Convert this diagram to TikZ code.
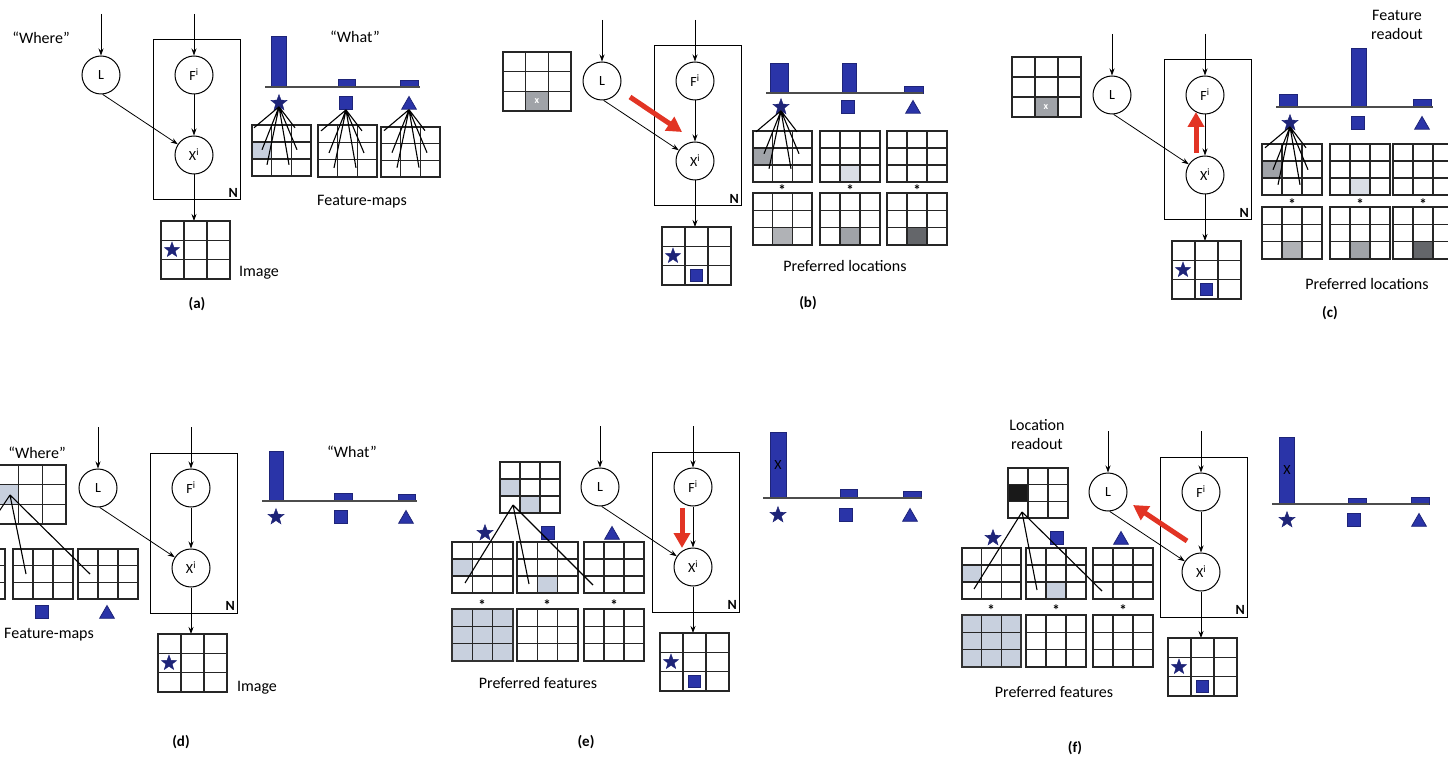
\documentclass[tikz,border=0pt]{standalone}
\usepackage{fontspec}
\setmainfont{Carlito}
\usetikzlibrary{shapes.geometric,arrows.meta}
\definecolor{barblue}{RGB}{42,52,168}
\definecolor{navy}{RGB}{30,36,120}
\definecolor{lightcell}{RGB}{200,208,222}
\definecolor{palecell}{RGB}{218,222,230}
\definecolor{midgrey}{RGB}{160,163,168}
\definecolor{lgrey}{RGB}{176,178,182}
\definecolor{dgrey}{RGB}{100,102,106}
\definecolor{redc}{RGB}{226,52,36}
\tikzset{
  gl/.style={line width=1.2pt, draw=black!85},
  circ/.style={circle, draw, line width=1pt, minimum size=38pt, inner sep=0pt, font=\fontsize{14}{16}\selectfont},
  arr/.style={-{Stealth[length=7pt,width=5pt]}, line width=0.8pt},
  plate/.style={draw, line width=1pt},
  redarr/.style={-{Triangle[length=15pt,width=16pt]}, line width=5pt, draw=redc},
  starsym/.style={star, star points=5, star point ratio=2.4, fill=navy, draw=navy, minimum size=17pt, inner sep=0pt},
  sqsym/.style={rectangle, fill=barblue, draw=navy, line width=0.8pt, minimum size=12pt, inner sep=0pt},
  trisym/.style={regular polygon, regular polygon sides=3, fill=barblue, draw=navy, line width=0.8pt, minimum size=17pt, inner sep=0pt},
  bar/.style={fill=barblue, draw=navy, line width=0.8pt},
  base/.style={line width=1.3pt, draw=black!70},
  lbl/.style={font=\fontsize{16}{19}\selectfont},
  plbl/.style={font=\fontsize{15}{18}\selectfont\bfseries},
  fanl/.style={line width=1.1pt},
  ast/.style={font=\fontsize{15}{16}\selectfont\bfseries, inner sep=0pt},
  xmark/.style={text=white, font=\fontsize{10}{11}\selectfont\bfseries},
}
\newcommand\gridbox[4]{%
  \draw[gl] (#1,#2) rectangle (#3,#4);
  \draw[gl] ({#1+(#3-#1)/3},#2) -- ({#1+(#3-#1)/3},#4)
    ({#1+2*(#3-#1)/3},#2) -- ({#1+2*(#3-#1)/3},#4)
    (#1,{#2+(#4-#2)/3}) -- (#3,{#2+(#4-#2)/3})
    (#1,{#2+2*(#4-#2)/3}) -- (#3,{#2+2*(#4-#2)/3});
}
\newcommand\cellfill[7]{\fill[#7] ({#1+(#3-#1)*(#5-1)/3},{#2+(#4-#2)*(#6-1)/3}) rectangle ({#1+(#3-#1)*#5/3},{#2+(#4-#2)*#6/3});}
\newcommand\fanout[1]{%
  \draw[fanl] (#1.south) -- +(-25,21) (#1.south) -- +(-17,43) (#1.south) -- +(-12,58)
              (#1.south) -- +(16,21) (#1.south) -- +(18,43) (#1.south) -- +(10,58);
}
\newcommand\graphpart[3]{%
  \begin{scope}[shift={#2}]
    \draw[plate] (52,-35) rectangle (139,125);
    \node[font=\fontsize{14}{16}\selectfont\bfseries, anchor=south east, inner sep=1pt] (#1N) at (138,124) {N};
    \node[circ] (#1L) at (0,0) {L};
    \node[circ] (#1F) at (93,0) {F\textsuperscript{i}};
    \node[circ] (#1X) at (93,80) {X\textsuperscript{i}};
    \coordinate (#1Lin) at (0,-61);
    \coordinate (#1Fin) at (93,-61);
    \coordinate (#1Img) at (93,146);
    \draw[arr] (#1Lin) -- (#1L);
    \draw[arr] (#1Fin) -- (#1F);
    \draw[arr] (#1F) -- (#1X);
    \draw[arr] (#1L.-85) -- (#1X);
    \draw[arr] (#1X) -- (#1Img);
    \gridbox{60}{146}{129}{204}
    \node[starsym, minimum size=16pt] (#1Istar) at (71,175) {};
    #3
  \end{scope}
}
\begin{document}
\begin{tikzpicture}[x=1pt,y=-1pt]
\useasboundingbox (0,0) rectangle (1448,759);
\fill[white] (0,0) rectangle (1448,759);
\clip (0,0) rectangle (1448,759);

%% ---------------- (a)
\node[lbl] (aWhere) at (41,38) {“Where”};
\graphpart{a}{(101,75)}{}
\node[lbl] (aImage) at (259,273) {Image};
\node[plbl] (acap) at (197,304) {(a)};
\draw[bar] (271,36) rectangle (286,87);
\draw[bar] (338,79) rectangle (355,87);
\draw[bar] (400,80) rectangle (418,87);
\draw[base] (265,87) -- (420,87);
\node[lbl] (aWhat) at (355,37) {“What”};
\cellfill{252}{125}{311}{176}{1}{2}{lightcell}
\gridbox{252}{125}{311}{176}
\gridbox{318}{125}{377}{177}
\gridbox{381}{127}{440}{177}
\node[starsym] (aS) at (279,103) {};
\node[sqsym, minimum size=13pt] (aQ) at (346,103) {};
\node[trisym] (aT) at (409,105) {};
\fanout{aS}\fanout{aQ}\fanout{aT}
\node[lbl] (aFM) at (362,202) {Feature-maps};

%% ---------------- (b)
\cellfill{503}{52}{571}{111}{2}{3}{midgrey}
\gridbox{503}{52}{571}{111}
\node[xmark] (bx) at (537,101) {x};
\graphpart{b}{(602,81)}{\node[sqsym] (bIsq) at (94,194) {};}
\coordinate (bR1) at (630,97); \coordinate (bR2) at (682,132);
\draw[redarr] (bR1) -- (bR2);
\draw[bar] (770,63) rectangle (788,93);
\draw[bar] (842,63) rectangle (856,93);
\draw[bar] (904,86) rectangle (923,93);
\draw[base] (766,93) -- (923,93);
\cellfill{753}{131}{812}{182}{1}{2}{midgrey}
\cellfill{820}{131}{880}{182}{2}{3}{palecell}
\gridbox{753}{131}{812}{182}
\gridbox{820}{131}{880}{182}
\gridbox{887}{131}{947}{182}
\node[starsym] (bS) at (781,107) {};
\node[sqsym, minimum size=13pt] (bQ) at (848,107) {};
\node[trisym] (bT) at (913,109) {};
\fanout{bS}
\node[ast] at (782,190) {*};
\node[ast] at (850,190) {*};
\node[ast] at (917,190) {*};
\cellfill{753}{193}{812}{245}{2}{3}{lgrey}
\cellfill{820}{193}{880}{245}{2}{3}{midgrey}
\cellfill{887}{193}{947}{245}{2}{3}{dgrey}
\gridbox{753}{193}{812}{245}
\gridbox{820}{193}{880}{245}
\gridbox{887}{193}{947}{245}
\node[lbl] (bPL) at (845,266) {Preferred locations};
\node[plbl] (bcap) at (808,303) {(b)};

%% ---------------- (c)
\cellfill{1012}{57}{1081}{117}{2}{3}{midgrey}
\gridbox{1012}{57}{1081}{117}
\node[xmark] (cx) at (1046,107) {x};
\graphpart{c}{(1112,95)}{\node[sqsym] (cIsq) at (94,194) {};}
\coordinate (cR1) at (1196,153); \coordinate (cR2) at (1196,112);
\draw[redarr] (cR1) -- (cR2);
\node[lbl, align=center] (cFR) at (1397,25) {Feature\\readout};
\draw[bar] (1279,94) rectangle (1297,107);
\draw[bar] (1351,48) rectangle (1366,107);
\draw[bar] (1413,99) rectangle (1431,107);
\draw[base] (1276,107) -- (1433,107);
\cellfill{1262}{144}{1322}{195}{1}{2}{midgrey}
\cellfill{1330}{144}{1390}{195}{2}{3}{palecell}
\gridbox{1262}{144}{1322}{195}
\gridbox{1330}{144}{1390}{195}
\gridbox{1393}{144}{1453}{195}
\node[starsym] (cS) at (1290,123) {};
\node[sqsym, minimum size=13pt] (cQ) at (1358,123) {};
\node[trisym] (cT) at (1422,125) {};
\fanout{cS}
\node[ast] at (1292,204) {*};
\node[ast] at (1360,204) {*};
\node[ast] at (1423,204) {*};
\cellfill{1262}{207}{1322}{259}{2}{3}{lgrey}
\cellfill{1330}{207}{1390}{259}{2}{3}{midgrey}
\cellfill{1393}{207}{1453}{259}{2}{3}{dgrey}
\gridbox{1262}{207}{1322}{259}
\gridbox{1330}{207}{1390}{259}
\gridbox{1393}{207}{1453}{259}
\node[lbl] (cPL) at (1367,284) {Preferred locations};
\node[plbl] (ccap) at (1330,313) {(c)};

%% ---------------- (d)
\node[lbl] (dWhere) at (37,453) {“Where”};
\cellfill{-5}{465}{66}{524}{1}{2}{lightcell}
\gridbox{-5}{465}{66}{524}
\gridbox{-55}{549}{5}{599}
\gridbox{13}{549}{73}{599}
\gridbox{78}{549}{138}{599}
\coordinate (dO) at (10,495);
\coordinate (dE1) at (-30,555); \coordinate (dE2) at (26,574); \coordinate (dE3) at (90,574);
\draw[fanl] (dO) -- (dE1) (dO) -- (dE2) (dO) -- (dE3);
\node[sqsym, minimum size=13pt] (dQ2) at (42,612) {};
\node[trisym] (dT2) at (107,614) {};
\node[lbl] (dFM) at (49,635) {Feature-maps};
\graphpart{d}{(98,488)}{}
\node[lbl] (dImage) at (257,688) {Image};
\node[plbl] (dcap) at (181,742) {(d)};
\draw[bar] (269,451) rectangle (283,501);
\draw[bar] (334,493) rectangle (352,501);
\draw[bar] (398,494) rectangle (415,501);
\draw[base] (262,501) -- (417,501);
\node[starsym] (dS) at (276,517) {};
\node[sqsym, minimum size=13pt] (dQ) at (341,517) {};
\node[trisym] (dT) at (406,519) {};
\node[lbl] (dWhat) at (352,452) {“What”};

%% ---------------- (e)
\cellfill{500}{462}{560}{513}{1}{2}{lightcell}
\cellfill{500}{462}{560}{513}{2}{3}{lightcell}
\gridbox{500}{462}{560}{513}
\cellfill{452}{542}{513}{593}{1}{2}{lightcell}
\cellfill{517}{542}{578}{593}{2}{3}{lightcell}
\gridbox{452}{542}{513}{593}
\gridbox{517}{542}{578}{593}
\gridbox{584}{542}{644}{593}
\node[starsym] (eS) at (485,533) {};
\node[sqsym, minimum size=13pt] (eQ) at (548,533) {};
\node[trisym] (eT) at (612,535) {};
\coordinate (eO) at (513,505);
\coordinate (eE1) at (465,583); \coordinate (eE2) at (529,584); \coordinate (eE3) at (593,585);
\draw[fanl] (eO) -- (eE1) (eO) -- (eE2) (eO) -- (eE3);
\node[ast] at (482,605) {*};
\node[ast] at (547,605) {*};
\node[ast] at (614,605) {*};
\fill[lightcell] (452,609) rectangle (513,661);
\gridbox{452}{609}{513}{661}
\draw[line width=1.6pt, draw=black!80] (452,609) rectangle (513,661);
\gridbox{517}{609}{578}{661}
\gridbox{584}{609}{644}{661}
\node[lbl] (ePF) at (538,683) {Preferred features};
\node[plbl] (ecap) at (586,742) {(e)};
\graphpart{e}{(600,487)}{\node[sqsym] (eIsq) at (94,194) {};}
\coordinate (eR1) at (682,508); \coordinate (eR2) at (682,548);
\draw[redarr] (eR1) -- (eR2);
\draw[bar] (770,432) rectangle (786,498);
\node[font=\fontsize{14}{16}\selectfont] (eXb) at (778,465) {X};
\draw[bar] (840,489) rectangle (857,498);
\draw[bar] (903,491) rectangle (921,498);
\draw[base] (763,498) -- (922,498);
\node[starsym] (eS2) at (778,515) {};
\node[sqsym, minimum size=13pt] (eQ2) at (846,515) {};
\node[trisym] (eT2) at (910,517) {};

%% ---------------- (f)
\node[lbl, align=center] (fLR) at (1037,435) {Location\\readout};
\cellfill{1008}{468}{1068}{518}{1}{2}{black!90}
\gridbox{1008}{468}{1068}{518}
\cellfill{962}{548}{1021}{599}{1}{2}{lightcell}
\cellfill{1026}{548}{1086}{599}{2}{3}{lightcell}
\gridbox{962}{548}{1021}{599}
\gridbox{1026}{548}{1086}{599}
\gridbox{1093}{548}{1153}{599}
\node[starsym] (fS) at (993,538) {};
\node[sqsym, minimum size=13pt] (fQ) at (1057,538) {};
\node[trisym] (fT) at (1121,540) {};
\coordinate (fO) at (1022,512);
\coordinate (fE1) at (974,589); \coordinate (fE2) at (1037,590); \coordinate (fE3) at (1102,591);
\draw[fanl] (fO) -- (fE1) (fO) -- (fE2) (fO) -- (fE3);
\node[ast] at (991,610) {*};
\node[ast] at (1056,610) {*};
\node[ast] at (1123,610) {*};
\fill[lightcell] (962,615) rectangle (1021,667);
\gridbox{962}{615}{1021}{667}
\draw[line width=1.6pt, draw=black!80] (962,615) rectangle (1021,667);
\gridbox{1026}{615}{1086}{667}
\gridbox{1093}{615}{1153}{667}
\node[lbl] (fPF) at (1054,692) {Preferred features};
\node[plbl] (fcap) at (1075,748) {(f)};
\graphpart{f}{(1108,492)}{\node[sqsym] (fIsq) at (94,194) {};}
\coordinate (fR1) at (1187,541); \coordinate (fR2) at (1133,505);
\draw[redarr] (fR1) -- (fR2);
\draw[bar] (1279,437) rectangle (1294,504);
\node[font=\fontsize{14}{16}\selectfont] (fXb) at (1287,470) {X};
\draw[bar] (1348,498) rectangle (1366,504);
\draw[bar] (1411,497) rectangle (1429,504);
\draw[base] (1272,504) -- (1429,504);
\node[starsym] (fS2) at (1287,520) {};
\node[sqsym, minimum size=13pt] (fQ2) at (1354,520) {};
\node[trisym] (fT2) at (1419,522) {};
\end{tikzpicture}
\end{document}
